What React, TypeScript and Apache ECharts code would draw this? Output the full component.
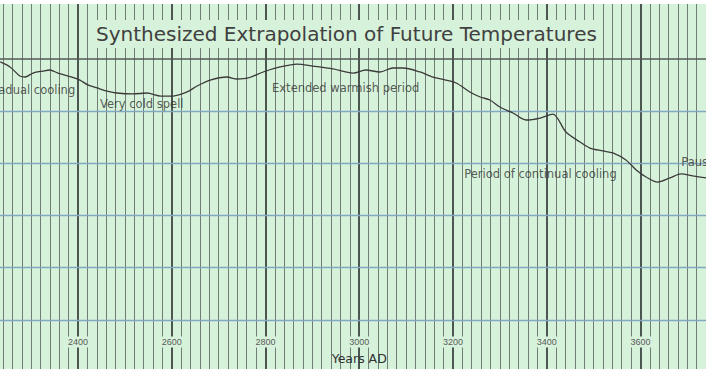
import React, { useEffect, useRef } from 'react';
import * as echarts from 'echarts';

const TITLE = 'Synthesized Extrapolation of Future Temperatures';
const X_NAME = 'Years AD';

// Years AD and relative temperature (°C, arbitrary zero at the top reference line)
const years = [
  2234, 2255, 2276, 2287, 2304, 2325, 2340, 2357, 2387, 2404, 2421, 2441, 2462, 2483,
  2517, 2547, 2577, 2603, 2633, 2654, 2682, 2718, 2739, 2763, 2795, 2831, 2867, 2901,
  2944, 2987, 3014, 3044, 3072, 3093, 3130, 3157, 3185, 3207, 3236, 3258, 3279, 3300,
  3328, 3356, 3386, 3413, 3441, 3471, 3492, 3520, 3541, 3569, 3591, 3612, 3637, 3663,
  3687, 3712, 3740,
];
const temps = [
  -0.033, -0.081, -0.167, -0.177, -0.139, -0.12, -0.11, -0.139, -0.177, -0.206, -0.253,
  -0.282, -0.311, -0.33, -0.339, -0.33, -0.359, -0.359, -0.32, -0.263, -0.206, -0.177,
  -0.196, -0.186, -0.129, -0.081, -0.053, -0.072, -0.1, -0.139, -0.11, -0.129, -0.091,
  -0.091, -0.129, -0.177, -0.206, -0.234, -0.32, -0.368, -0.397, -0.464, -0.521, -0.588,
  -0.569, -0.531, -0.703, -0.798, -0.856, -0.884, -0.903, -0.97, -1.066, -1.133, -1.181,
  -1.142, -1.104, -1.123, -1.142,
];

// Horizontal reference lines (°C)
const gridLevels = [0, -0.5, -1, -1.5, -2, -2.5];

// Annotations
const noteTexts = ['Gradual cooling', 'Very cold spell', 'Extended warmish period', 'Period of continual cooling', 'Pause'];
const noteYears = [2394, 2447, 2814, 3224, 3687];
const noteTemps = [-0.301, -0.435, -0.282, -1.104, -0.989];
const notePositions = ['left', 'right', 'right', 'right', 'right'];

const GREEN = '#d7f2da';
const Y_MIN = -2.9685;
const Y_MAX = 0.521;

export default function App() {
  const ref = useRef<HTMLDivElement>(null);
  useEffect(() => {
    const chart = echarts.init(ref.current!, null, { renderer: 'svg' });
    chart.setOption({
      animation: false,
      backgroundColor: '#ffffff',
      title: {
        text: TITLE,
        left: 109,
        top: 20,
        padding: [4, 3],
        backgroundColor: GREEN,
        textStyle: {
          fontFamily: 'DejaVu Sans',
          fontSize: 20,
          fontWeight: 'normal',
          color: '#404040',
        },
      },
      grid: {
        left: 0.26,
        right: 1.8,
        top: 4,
        bottom: 9,
        show: true,
        backgroundColor: GREEN,
        borderWidth: 0,
        containLabel: false,
        outerBoundsMode: 'none',
      },
      xAxis: {
        type: 'value',
        min: 2200,
        max: 3800,
        interval: 200,
        axisLine: { show: false },
        axisTick: { show: false },
        axisLabel: {
          inside: true,
          margin: 27,
          verticalAlign: 'middle',
          fontSize: 9,
          fontFamily: 'Liberation Sans',
          color: '#5a5a5a',
          backgroundColor: GREEN,
          padding: [1, 1],
          showMinLabel: false,
          showMaxLabel: false,
          formatter: (v: number) => String(v),
        },
        splitLine: { show: true, lineStyle: { color: '#4d5550', width: 2 } },
        minorTick: { show: false, splitNumber: 10 },
        minorSplitLine: { show: true, lineStyle: { color: '#6f7d74', width: 1 } },
        name: X_NAME,
        nameLocation: 'middle',
        nameGap: -13,
        nameTextStyle: {
          fontFamily: 'DejaVu Sans',
          fontSize: 12.5,
          color: '#333333',
          verticalAlign: 'middle',
        },
      },
      yAxis: {
        type: 'value',
        min: Y_MIN,
        max: Y_MAX,
        show: false,
        splitLine: { show: false },
      },
      series: [
        {
          type: 'line',
          data: years.map((y, i) => [y, temps[i]]),
          symbol: 'none',
          smooth: 0.3,
          lineStyle: { color: '#3a3a3a', width: 1.3 },
          z: 5,
          markLine: {
            silent: true,
            symbol: 'none',
            label: { show: false },
            data: gridLevels.map((v, i) => ({
              yAxis: v,
              lineStyle: i === 0
                ? { color: '#555a57', width: 1.6, type: 'solid' }
                : { color: '#80a8c0', width: 1.4, type: 'solid' },
            })),
          },
        },
        {
          type: 'scatter',
          symbolSize: 0,
          data: noteYears.map((y, i) => ({
            value: [y, noteTemps[i]],
            label: {
              show: true,
              formatter: noteTexts[i],
              position: notePositions[i],
              distance: 0,
            },
          })),
          label: {
            fontFamily: 'DejaVu Sans',
            fontSize: 11.5,
            color: '#333333',
          },
          z: 6,
        },
      ],
    });
    return () => chart.dispose();
  }, []);
  return (
    <div style={{ position: 'fixed', left: 0, top: 0, width: 706, height: 378, overflow: 'hidden' }}>
      <div
        ref={ref}
        style={{ position: 'absolute', left: -16, top: 0, width: 752, height: 378 }}
      />
    </div>
  );
}
